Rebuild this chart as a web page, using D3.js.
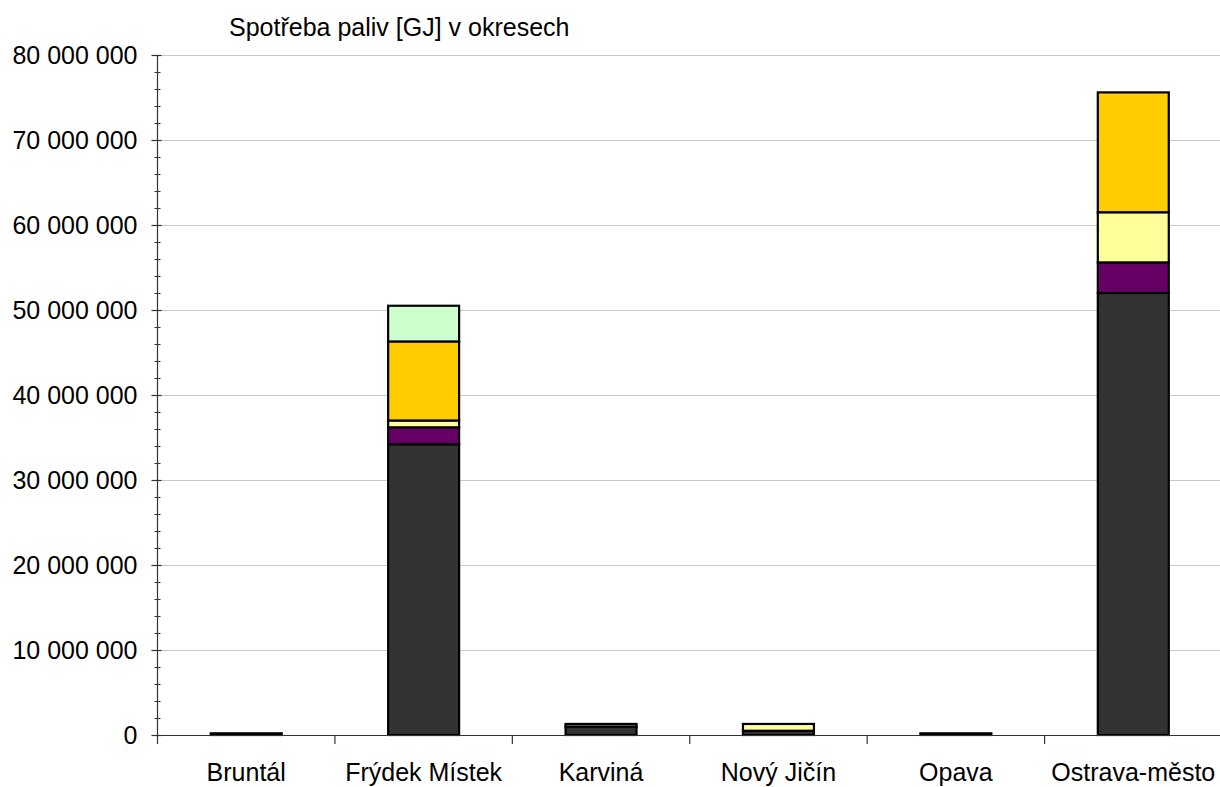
<!DOCTYPE html>
<html>
<head>
<meta charset="utf-8">
<script src="https://cdn.jsdelivr.net/npm/d3@7"></script>
<style>
  html, body { margin: 0; padding: 0; background: #fff; }
  svg { display: block; font-family: Arial, "Liberation Sans", sans-serif; }
</style>
</head>
<body>
<svg id="chart" width="1220" height="787"></svg>
<script>
// Districts along the x axis
const districts = ["Bruntál", "Frýdek Místek", "Karviná", "Nový Jičín", "Opava", "Ostrava-město"];

// Fuel consumption per district [GJ], one array per stacked series (bottom to top)
const seriesNames = ["uhlí", "koks", "topné oleje", "zemní plyn", "ostatní"];
const uhli       = [200000, 34200000, 1000000,  500000, 200000, 52000000];
const koks       = [     0,  2000000,       0,       0,      0,  3600000];
const topneOleje = [     0,   800000,       0,  800000,      0,  5900000];
const zemniPlyn  = [     0,  9300000,       0,       0,      0, 14100000];
const ostatni    = [     0,  4200000,  300000,       0,      0,        0];
const seriesColors = ["#333333", "#660066", "#FFFF99", "#FFCC00", "#CCFFCC"];

// Y axis ticks
const yTicks = [0, 10000000, 20000000, 30000000, 40000000, 50000000, 60000000, 70000000, 80000000];
const chartTitle = "Spotřeba paliv [GJ] v okresech";

const svg = d3.select("#chart");
const plot = { left: 157.5, right: 1222, top: 55, bottom: 735 };
const fontSize = 25;

const rows = districts.map((d, i) => ({
  district: d,
  "uhlí": uhli[i], "koks": koks[i], "topné oleje": topneOleje[i],
  "zemní plyn": zemniPlyn[i], "ostatní": ostatni[i]
}));
const stacked = d3.stack().keys(seriesNames)(rows);

const x = d3.scaleBand().domain(districts).range([plot.left, plot.right]).padding(0);
const y = d3.scaleLinear().domain([0, 80000000]).range([plot.bottom, plot.top]);

const fmt = v => d3.format(",")(v).replace(/,/g, " ");

// Horizontal gridlines
svg.append("g").selectAll("line").data(yTicks.filter(t => t > 0)).join("line")
  .attr("x1", plot.left).attr("x2", plot.right)
  .attr("y1", d => y(d) + 0.5).attr("y2", d => y(d) + 0.5)
  .attr("stroke", "#c8c8c8").attr("stroke-width", 1);

// Stacked bars
const barW = x.bandwidth() * 0.4;
svg.append("g").selectAll("g").data(stacked).join("g")
  .attr("fill", (d, i) => seriesColors[i])
  .selectAll("rect").data(d => d.filter(s => s[1] - s[0] > 0)).join("rect")
  .attr("x", d => x(d.data.district) + (x.bandwidth() - barW) / 2)
  .attr("y", d => y(d[1]))
  .attr("width", barW)
  .attr("height", d => y(d[0]) - y(d[1]))
  .attr("stroke", "#000").attr("stroke-width", 2.2);

// Y axis with major and minor ticks
const yAxisG = svg.append("g").attr("transform", `translate(${plot.left},0)`);
yAxisG.append("line").attr("y1", plot.top).attr("y2", plot.bottom)
  .attr("stroke", "#333").attr("stroke-width", 1.2);
const minor = d3.range(0, 80000001, 2000000);
yAxisG.selectAll("line.minor").data(minor).join("line").attr("class", "minor")
  .attr("x1", -3).attr("x2", 3)
  .attr("y1", d => y(d) + 0.5).attr("y2", d => y(d) + 0.5)
  .attr("stroke", "#333").attr("stroke-width", 1);
yAxisG.selectAll("line.major").data(yTicks).join("line").attr("class", "major")
  .attr("x1", -6).attr("x2", 4)
  .attr("y1", d => y(d) + 0.5).attr("y2", d => y(d) + 0.5)
  .attr("stroke", "#333").attr("stroke-width", 1.2);
yAxisG.selectAll("text").data(yTicks).join("text")
  .attr("x", -20).attr("y", d => y(d) + 8.5)
  .attr("text-anchor", "end").attr("font-size", fontSize).attr("fill", "#000")
  .text(fmt);

// X axis with ticks at category boundaries
const xAxisG = svg.append("g");
xAxisG.append("line").attr("x1", plot.left).attr("x2", plot.right)
  .attr("y1", plot.bottom + 0.5).attr("y2", plot.bottom + 0.5)
  .attr("stroke", "#333").attr("stroke-width", 1.2);
xAxisG.selectAll("line.tick").data(districts).join("line").attr("class", "tick")
  .attr("x1", d => x(d)).attr("x2", d => x(d))
  .attr("y1", plot.bottom).attr("y2", plot.bottom + 9)
  .attr("stroke", "#333").attr("stroke-width", 1.2);
xAxisG.selectAll("text").data(districts).join("text")
  .attr("x", d => x(d) + x.bandwidth() / 2).attr("y", 781)
  .attr("text-anchor", "middle").attr("font-size", fontSize).attr("fill", "#000")
  .text(d => d);

// Title
svg.append("text").attr("x", 229).attr("y", 36)
  .attr("font-size", fontSize).attr("fill", "#000")
  .text(chartTitle);
</script>
</body>
</html>
